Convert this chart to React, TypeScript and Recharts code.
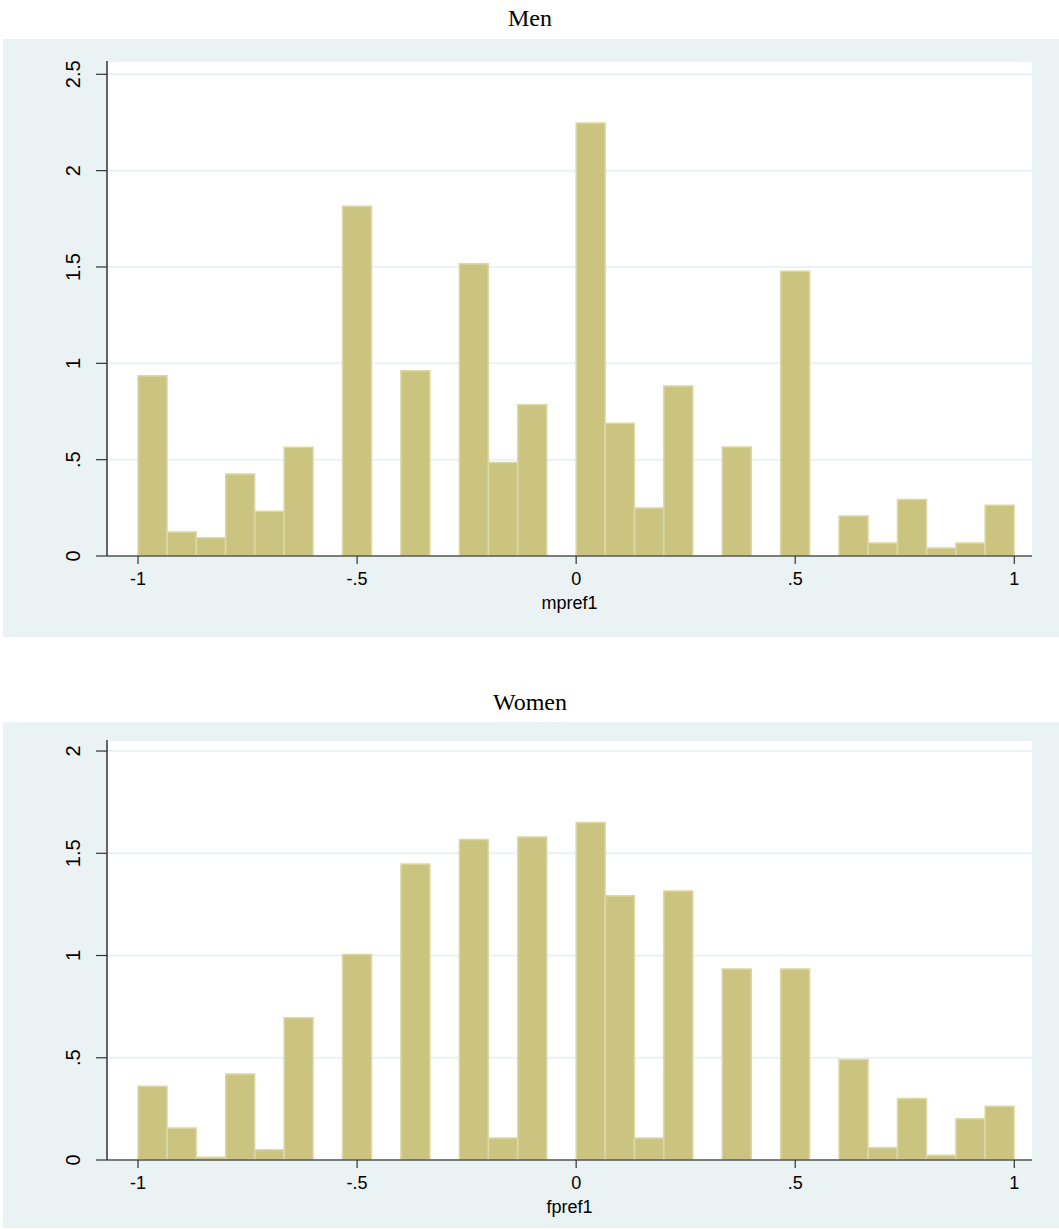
import React from 'react';
import { ComposedChart, Bar, XAxis, YAxis, CartesianGrid } from 'recharts';

// Bin centres (30 bins of width 1/15 over [-1, 1])
const binCenters = [
  -0.9667, -0.9, -0.8333, -0.7667, -0.7, -0.6333, -0.5667, -0.5, -0.4333, -0.3667,
  -0.3, -0.2333, -0.1667, -0.1, -0.0333, 0.0333, 0.1, 0.1667, 0.2333, 0.3,
  0.3667, 0.4333, 0.5, 0.5667, 0.6333, 0.7, 0.7667, 0.8333, 0.9, 0.9667,
];

// Density values
const menDensity = [
  0.936, 0.125, 0.095, 0.426, 0.232, 0.565, 0, 1.815, 0, 0.962,
  0, 1.517, 0.485, 0.785, 0, 2.247, 0.689, 0.249, 0.882, 0,
  0.566, 0, 1.478, 0, 0.208, 0.068, 0.293, 0.042, 0.068, 0.263,
];
const womenDensity = [
  0.361, 0.157, 0.013, 0.42, 0.05, 0.696, 0, 1.005, 0, 1.448,
  0, 1.568, 0.107, 1.58, 0, 1.651, 1.292, 0.107, 1.316, 0,
  0.934, 0, 0.934, 0, 0.491, 0.06, 0.301, 0.023, 0.202, 0.263,
];

const xTicks = [-1, -0.5, 0, 0.5, 1];
const menYTicks = [0, 0.5, 1, 1.5, 2, 2.5];
const womenYTicks = [0, 0.5, 1, 1.5, 2];

const menData = binCenters.map((x, i) => ({ x, d: menDensity[i] }));
const womenData = binCenters.map((x, i) => ({ x, d: womenDensity[i] }));

const fmt = (v: number) => {
  if (v === 0) return '0';
  return String(v).replace(/^(-?)0\./, '$1.');
};

const SANS = '"Liberation Sans", Arial, sans-serif';
const SERIF = '"Liberation Serif", "Times New Roman", serif';
const PANEL = '#EAF2F3';
const BAR_FILL = '#CBC480';
const BAR_STROKE = '#DCD8A4';

const YTick = (props: any) => {
  const { x, y, payload } = props;
  const label = fmt(payload.value);
  const cx = x - 23;
  return (
    <text
      x={cx}
      y={y}
      transform={`rotate(-90, ${cx}, ${y})`}
      textAnchor="middle"
      dominantBaseline="central"
      fontSize={20}
      fontFamily={SANS}
      fill="#000"
    >
      {label}
    </text>
  );
};

type PanelProps = {
  top: number;
  height: number;
  data: { x: number; d: number }[];
  yMax: number;
  yTicks: number[];
  xLabel: string;
  title: string;
  titleY: number;
  plotTop: number;
  plotBottom: number;
};

const Panel = ({ top, height, data, yMax, yTicks, xLabel, title, titleY, plotTop, plotBottom }: PanelProps) => {
  const chartW = 1056;
  const axisH = height - plotBottom;
  return (
    <>
      <svg style={{ position: 'absolute', left: 0, top: titleY - 30, width: 1059, height: 40 }}>
        <text x={530} y={30} textAnchor="middle" fontFamily={SERIF} fontSize={24} fill="#000">
          {title}
        </text>
      </svg>
      <div style={{ position: 'absolute', left: 3, top, width: chartW, height, background: PANEL }}>
        <ComposedChart
          width={chartW}
          height={height}
          data={data}
          margin={{ top: plotTop, right: 27, bottom: 0, left: 0 }}
          barCategoryGap={0}
          barGap={0}
        >
          <CartesianGrid vertical={false} stroke={PANEL} strokeWidth={2} fill="#ffffff" fillOpacity={1} />
          <XAxis
            dataKey="x"
            type="number"
            domain={[-1.0708, 1.0404]}
            allowDataOverflow
            ticks={xTicks}
            tickFormatter={fmt}
            height={axisH}
            tickSize={8}
            tickMargin={8}
            axisLine={{ stroke: '#555', strokeWidth: 1.5 }}
            tickLine={{ stroke: '#333', strokeWidth: 1.2 }}
            tick={{ fontSize: 18, fontFamily: SANS, fill: '#000' }}
            label={{ value: xLabel, position: 'insideBottom', offset: axisH - 53, fontSize: 18, fontFamily: SANS, fill: '#000' }}
          />
          <YAxis
            type="number"
            domain={[0, yMax]}
            allowDataOverflow
            ticks={yTicks}
            width={104}
            tickSize={11}
            tickMargin={0}
            axisLine={{ stroke: '#333', strokeWidth: 1.5 }}
            tickLine={{ stroke: '#333', strokeWidth: 1.2 }}
            tick={<YTick />}
          />
          <Bar dataKey="d" fill={BAR_FILL} stroke={BAR_STROKE} strokeWidth={1.5} isAnimationActive={false} />
        </ComposedChart>
      </div>
    </>
  );
};

export default function App() {
  return (
    <div style={{ position: 'absolute', left: 0, top: 0, width: 1059, height: 1230, background: '#fff' }}>
      <Panel
        top={39}
        height={598}
        data={menData}
        yMax={2.569}
        yTicks={menYTicks}
        xLabel="mpref1"
        title="Men"
        titleY={26}
        plotTop={22}
        plotBottom={517}
      />
      <Panel
        top={722}
        height={506}
        data={womenData}
        yMax={2.054}
        yTicks={womenYTicks}
        xLabel="fpref1"
        title="Women"
        titleY={710}
        plotTop={18}
        plotBottom={438}
      />
    </div>
  );
}
